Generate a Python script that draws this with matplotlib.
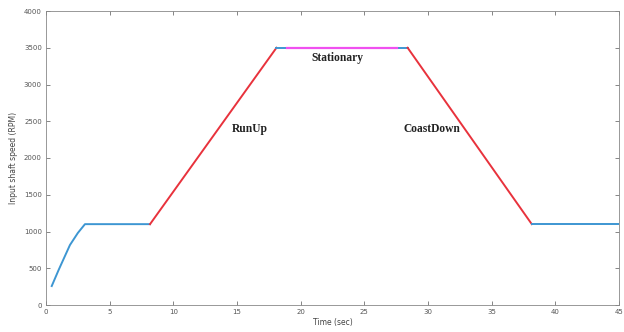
import matplotlib
matplotlib.use("Agg")
import matplotlib.pyplot as plt

# speed profile
t_start = [0.45, 1.0, 1.88, 2.5, 3.06, 8.17]
v_start = [258, 480, 816, 980, 1100, 1100]
t_runup = [8.17, 18.1]
v_runup = [1100, 3500]
t_top = [18.1, 28.4]
v_top = [3500, 3500]
t_stat = [18.9, 27.6]
v_stat = [3500, 3500]
t_coast = [28.4, 38.15]
v_coast = [3500, 1100]
t_end = [38.15, 45]
v_end = [1100, 1100]

xticks = [0, 5, 10, 15, 20, 25, 30, 35, 40, 45]
yticks = [0, 500, 1000, 1500, 2000, 2500, 3000, 3500, 4000]

blue = "#3d96d2"
red = "#e8323c"
magenta = "#f050f0"

fig = plt.figure(figsize=(6.24, 3.32), dpi=100)
ax = fig.add_axes([46 / 624, 27 / 332, 573 / 624, 294 / 332])

ax.plot(t_start, v_start, color=blue, lw=1.4)
ax.plot(t_runup, v_runup, color=red, lw=1.4)
ax.plot(t_top, v_top, color=blue, lw=1.4)
ax.plot(t_stat, v_stat, color=magenta, lw=1.6)
ax.plot(t_coast, v_coast, color=red, lw=1.4)
ax.plot(t_end, v_end, color=blue, lw=1.4)

tf = dict(family="Liberation Serif", fontweight="bold", fontsize=8.3, ha="center", va="center",
          color="#222222")
ax.text(16.0, 2400, "RunUp", **tf)
ax.text(22.9, 3360, "Stationary", **tf)
ax.text(30.3, 2390, "CoastDown", **tf)

ax.set_xlim(0, 45)
ax.set_ylim(0, 4000)
ax.set_xticks(xticks)
ax.set_yticks(yticks)
ax.tick_params(direction="in", length=3, width=0.5, labelsize=5, colors="#555555",
               top=True, right=True, pad=3)
for s in ax.spines.values():
    s.set_linewidth(0.6)
    s.set_color("#888888")
ax.set_xlabel("Time (sec)", fontsize=5.5, color="#444444", labelpad=2)
ax.set_ylabel("Input shaft speed (RPM)", fontsize=5.5, color="#444444", labelpad=4)

fig.savefig("out.png", dpi=100)
